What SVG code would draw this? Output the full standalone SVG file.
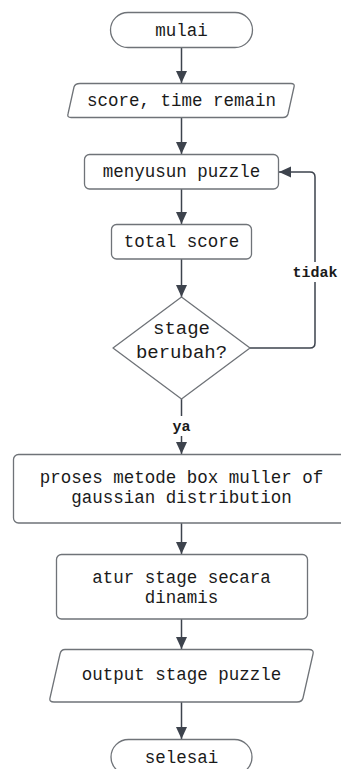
<svg xmlns="http://www.w3.org/2000/svg" width="341" height="769" viewBox="0 0 341 769">
  <defs>
    <marker id="arrow" markerUnits="userSpaceOnUse" markerWidth="12" markerHeight="12" viewBox="0 0 12 12" refX="12" refY="6" orient="auto">
      <path d="M0,0.5 L12,6 L0,11.5 Z" fill="#3d434d"/>
    </marker>
    <style>
      .shape { fill: #ffffff; stroke: #6f7378; stroke-width: 1.3; }
      .edge { fill: none; stroke: #3d434d; stroke-width: 1.5; }
      .txt { font-family: "Liberation Mono", "DejaVu Sans Mono", monospace; font-size: 17.5px; fill: #1a1a1a; text-anchor: middle; }
      .big { font-size: 19px; }
      .lbl { font-family: "Liberation Mono", "DejaVu Sans Mono", monospace; font-size: 15px; font-weight: bold; fill: #1a1a1a; text-anchor: middle; }
    </style>
  </defs>
  <rect width="341" height="769" fill="#ffffff"/>

  <!-- connectors -->
  <g id="connectors">
    <line class="edge" x1="181.5" y1="48" x2="181.5" y2="83" marker-end="url(#arrow)"/>
    <line class="edge" x1="181.5" y1="118" x2="181.5" y2="154" marker-end="url(#arrow)"/>
    <line class="edge" x1="181.5" y1="189" x2="181.5" y2="224" marker-end="url(#arrow)"/>
    <line class="edge" x1="181.5" y1="259" x2="181.5" y2="297" marker-end="url(#arrow)"/>
    <path class="edge" d="M250,348 H310 Q315,348 315,343 V177 Q315,172 310,172 H279" marker-end="url(#arrow)"/>
    <line class="edge" x1="181.5" y1="399" x2="181.5" y2="454" marker-end="url(#arrow)"/>
    <line class="edge" x1="181.5" y1="523" x2="181.5" y2="554" marker-end="url(#arrow)"/>
    <line class="edge" x1="181.5" y1="619" x2="181.5" y2="649" marker-end="url(#arrow)"/>
    <line class="edge" x1="181.5" y1="702" x2="181.5" y2="739" marker-end="url(#arrow)"/>
    <rect x="290" y="262" width="50" height="20" fill="#ffffff"/>
    <text class="lbl" x="315" y="277">tidak</text>
    <rect x="168" y="416" width="27" height="20" fill="#ffffff"/>
    <text class="lbl" x="181.5" y="431">ya</text>
  </g>

  <g id="start">
    <rect class="shape" x="110.5" y="12.5" width="142" height="35" rx="17.5"/>
    <text class="txt" x="181.5" y="36">mulai</text>
  </g>

  <g id="input">
    <path class="shape" d="M80,83.5 H291 Q295,83.5 294,87 L288,114 Q287,117.5 283,117.5 H71 Q67,117.5 68,114 L74,87 Q75,83.5 80,83.5 Z"/>
    <text class="txt" x="181.5" y="106">score, time remain</text>
  </g>

  <g id="compose">
    <rect class="shape" x="84.5" y="154.5" width="194" height="34.5" rx="5"/>
    <text class="txt" x="181.5" y="177">menyusun puzzle</text>
  </g>

  <g id="total">
    <rect class="shape" x="111.5" y="224.5" width="140" height="34.5" rx="5"/>
    <text class="txt" x="181.5" y="247">total score</text>
  </g>

  <g id="decision">
    <path class="shape" d="M181.5,297 L250,348 L181.5,399 L113,348 Z" stroke-linejoin="round"/>
    <text class="txt big" x="181.5" y="334">stage</text>
    <text class="txt big" x="181.5" y="358">berubah?</text>
  </g>

  <g id="process">
    <rect class="shape" x="13.5" y="454.5" width="336" height="68.5" rx="5"/>
    <text class="txt" x="181.5" y="483">proses metode box muller of</text>
    <text class="txt" x="181.5" y="503">gaussian distribution</text>
  </g>

  <g id="adjust">
    <rect class="shape" x="56.5" y="554.5" width="251" height="64.5" rx="5"/>
    <text class="txt" x="181.5" y="583">atur stage secara</text>
    <text class="txt" x="181.5" y="603">dinamis</text>
  </g>

  <g id="output">
    <path class="shape" d="M65,649.5 H309 Q314,649.5 313,654 L303,698 Q302,702 297,702 H54 Q49,702 50,698 L60,654 Q61,649.5 65,649.5 Z"/>
    <text class="txt" x="181.5" y="680">output stage puzzle</text>
  </g>

  <g id="end">
    <rect class="shape" x="111" y="739.5" width="141" height="35" rx="17.5"/>
    <text class="txt" x="181.5" y="763">selesai</text>
  </g>
</svg>
